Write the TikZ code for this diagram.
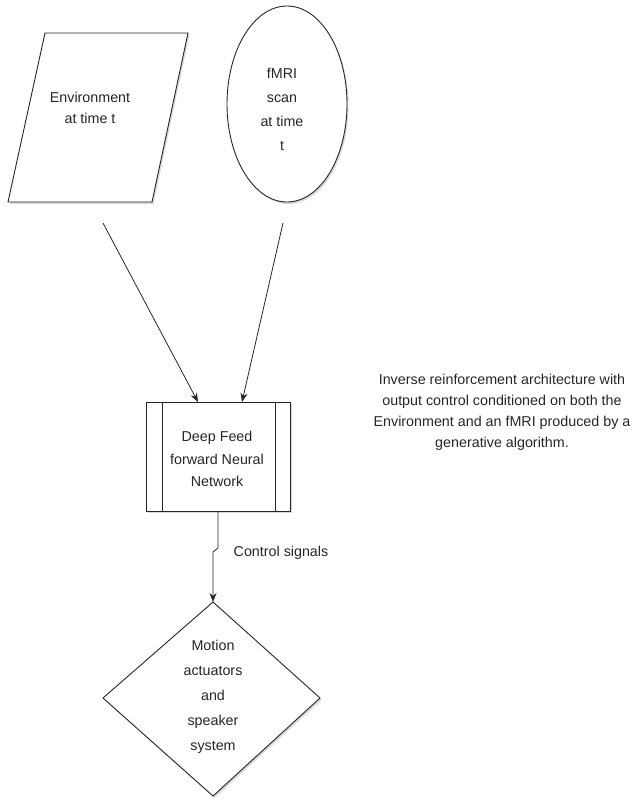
\documentclass[tikz,border=0pt]{standalone}
\usepackage{fontspec}
\setmainfont{Liberation Sans}
\usetikzlibrary{arrows.meta,shadows}
\definecolor{ink}{HTML}{262626}
\tikzset{
  shape line/.style={draw=ink, line width=0.9pt, fill=white, line join=miter,
    drop shadow={shadow xshift=1.5pt, shadow yshift=-2pt, opacity=0.15, fill=black}},
  label text/.style={text=ink, align=center, inner sep=0pt},
  conn/.style={draw=ink, line width=0.8pt, -{Stealth[length=9pt,width=7pt]}},
}
\begin{document}
\begin{tikzpicture}[x=1pt,y=-1pt]
\useasboundingbox (0,0) rectangle (636,801);
% parallelogram
\path[shape line] (45,33) -- (188,33) -- (152,202) -- (8,202) -- cycle;
\node[label text, font=\fontsize{14.3}{21}\selectfont] (env) at (90,108) {Environment\\at time t};
\coordinate (envout) at (103,223);
% ellipse
\path[shape line] (287,104) ellipse [x radius=60, y radius=98];
\node[label text, font=\fontsize{14.3}{24}\selectfont] (fmri) at (282,109) {fMRI\\scan\\at time\\t};
\coordinate (fmriout) at (283,223);
% box
\path[shape line] (146,402) rectangle (290,511);
\draw[ink, line width=0.8pt] (162,402) -- (162,511) (275,402) -- (275,511);
\node[label text, font=\fontsize{14.3}{22.5}\selectfont] (dnn) at (217,459) {Deep Feed\\forward Neural\\Network};
\coordinate (dnnin1) at (198,402);
\coordinate (dnnin2) at (242,402);
\coordinate (dnnout) at (218,511);
% diamond
\path[shape line] (213,602) -- (320,698) -- (213,796) -- (103,698) -- cycle;
\node[label text, font=\fontsize{14.3}{25}\selectfont] (act) at (213,697) {Motion\\actuators\\and\\speaker\\system};
\coordinate (actin) at (213,602);
% connectors
\draw[conn] (envout) -- (dnnin1);
\draw[conn] (fmriout) -- (dnnin2);
\draw[conn] (dnnout) -- (218,548) -- (213,552) -- (actin);
\node[label text, font=\fontsize{14.3}{21}\selectfont] (ctrl) at (281,553) {Control signals};
% caption
\node[label text, font=\fontsize{14.3}{21}\selectfont] (cap) at (502,412) {Inverse reinforcement architecture with\\output control conditioned on both the\\Environment and an fMRI produced by a\\generative algorithm.};
\end{tikzpicture}
\end{document}
